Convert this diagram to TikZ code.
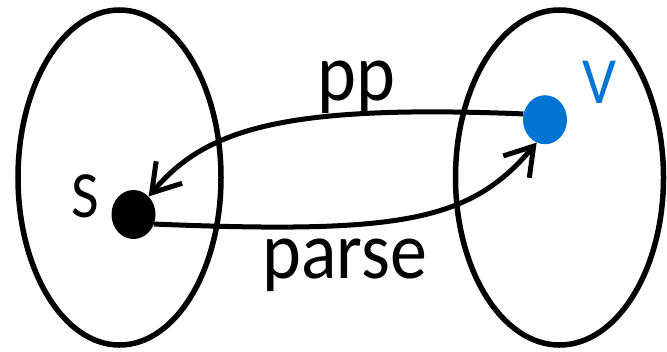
\documentclass[tikz,border=0pt]{standalone}
\usepackage{fontspec}
\usepackage{graphicx}
\setmainfont{Carlito}
\usetikzlibrary{shapes.geometric,arrows.meta}
\definecolor{vblue}{RGB}{0,116,210}
\tikzset{
  setring/.style={line width=5.5bp},
  dotnode/.style={ellipse, inner sep=0pt, minimum width=44bp, minimum height=49bp},
  link/.style={line width=5bp, -{Straight Barb[length=27bp, width=34bp]}},
  biglabel/.style={anchor=base, inner sep=0pt, font=\fontsize{74bp}{80bp}\selectfont},
  setlabel/.style={anchor=base, inner sep=0pt, font=\fontsize{60bp}{66bp}\selectfont}
}
\begin{document}
\begin{tikzpicture}[x=1bp,y=-1bp]
\useasboundingbox (0,0) rectangle (667,351);
\draw[setring] (119.5,177.5) ellipse [x radius=101.5bp, y radius=167.5bp];
\draw[setring] (559.5,177.5) ellipse [x radius=104bp, y radius=167.5bp];
\node[dotnode, fill=black] (s) at (133.5,214.5) {};
\node[dotnode, fill=vblue] (v) at (545,119.7) {};
\node[setlabel] (sl) at (85,217) {\scalebox{1}[1.1]{S}};
\node[setlabel, text=vblue] (vl) at (600,103) {\scalebox{1}[1.1]{V}};
\node[biglabel] (ppl) at (356.5,100) {\scalebox{1}[1.1]{pp}};
\node[biglabel] (parsel) at (345,278) {\scalebox{1}[1.1]{parse}};
\draw[link] (v.165) .. controls (280,104) and (205,130) .. (s.50);
\draw[link] (s.-25) .. controls (400,234) and (470,222) .. (v.-110);
\end{tikzpicture}
\end{document}
